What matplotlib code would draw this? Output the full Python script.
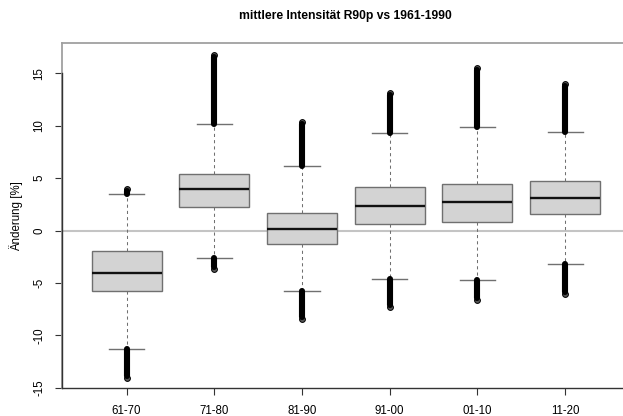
import matplotlib
matplotlib.use("Agg")
import matplotlib.pyplot as plt

plt.rcParams['font.family'] = ['Liberation Sans', 'DejaVu Sans']

labels = ["61-70", "71-80", "81-90", "91-00", "01-10", "11-20"]
q1 = [-5.75, 2.21, -1.29, 0.65, 0.81, 1.58]
med = [-4.1, 3.93, 0.18, 2.34, 2.75, 3.10]
q3 = [-2.0, 5.40, 1.67, 4.12, 4.47, 4.70]
whisk_lo = [-11.35, -2.60, -5.78, -4.63, -4.70, -3.17]
whisk_hi = [3.45, 10.20, 6.16, 9.34, 9.92, 9.41]
out_lo_min = [-14.1, -3.70, -8.48, -7.34, -6.64, -6.06]
out_hi_max = [4.0, 16.76, 10.40, 13.10, 15.50, 13.96]

W, H = 623, 416
fig = plt.figure(figsize=(W / 100, H / 100), dpi=100)
left_px, right_px, top_px, bot_px = 61.7, 630.0, 43.3, 388.3
ax = fig.add_axes([left_px / W, 1 - bot_px / H, (right_px - left_px) / W, (bot_px - top_px) / H])

stats = []
for i in range(len(labels)):
    stats.append(dict(q1=q1[i], med=med[i], q3=q3[i], whislo=whisk_lo[i], whishi=whisk_hi[i],
                      fliers=[out_lo_min[i], out_hi_max[i]]))

pos = list(range(1, len(labels) + 1))
edge = '#707070'
ax.axhline(0, color='#c4c4c4', lw=1.5, zorder=1)

# dense outlier columns
for i, p in enumerate(pos):
    ax.plot([p, p], [whisk_hi[i], out_hi_max[i] - 0.2], color='black', lw=4.4,
            solid_capstyle='round', zorder=3)
    ax.plot([p, p], [out_lo_min[i] + 0.2, whisk_lo[i]], color='black', lw=4.4,
            solid_capstyle='round', zorder=3)

ax.bxp(stats, positions=pos, widths=0.8, patch_artist=True, showfliers=True,
       boxprops=dict(facecolor='#d3d3d3', edgecolor=edge, lw=1.0),
       medianprops=dict(color='#111111', lw=1.7),
       whiskerprops=dict(color=edge, lw=0.75, linestyle=(0, (3, 3))),
       capprops=dict(color=edge, lw=1.0),
       capwidths=0.4,
       flierprops=dict(marker='o', markersize=4.2, markerfacecolor='#555555',
                       markeredgecolor='black', markeredgewidth=0.7, linestyle='none'),
       zorder=2)

ax.set_xlim(0.26, 6.74)
ax.set_ylim(-15.07, 17.88)

for s in ['top', 'right', 'left', 'bottom']:
    ax.spines[s].set_visible(False)
# gray box
ax.plot([0, 1], [1, 1], transform=ax.transAxes, color='#a0a0a0', lw=1.3, clip_on=False)
ax.plot([0, 0], [0, 1], transform=ax.transAxes, color='#a0a0a0', lw=1.3, clip_on=False)
ax.plot([0, 1], [0, 0], transform=ax.transAxes, color='#333333', lw=1.0, clip_on=False)
# left axis line (ticks range)
ax.plot([0.26, 0.26], [-15, 15], color='#333333', lw=1.0, clip_on=False, zorder=5)

ax.set_yticks([-15, -10, -5, 0, 5, 10, 15])
ax.set_yticklabels(['-15', '-10', '-5', '0', '5', '10', '15'], rotation=90, va='center')
ax.set_xticks(pos)
ax.set_xticklabels(labels)
ax.tick_params(axis='both', length=5, width=0.8, color='#333333', labelsize=8.3)
ax.tick_params(axis='y', pad=7)
ax.tick_params(axis='x', pad=7)

ax.set_ylabel('Änderung [%]', fontsize=8.3, labelpad=7)
fig.text((61.7 + 630) / 2 / W, 1 - 16 / H, 'mittlere Intensität R90p vs 1961-1990',
         ha='center', va='center', fontsize=8.7, fontweight='bold')

fig.savefig('out.png', dpi=100)
